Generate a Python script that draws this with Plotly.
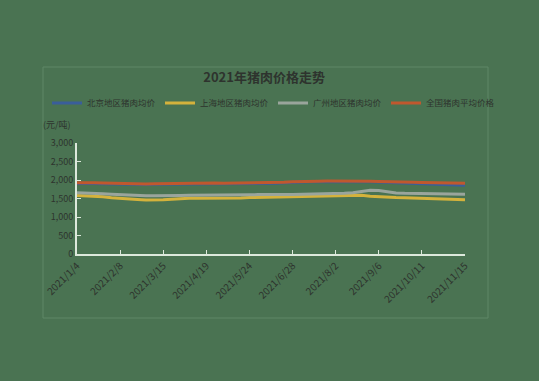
import plotly.graph_objects as go
import pandas as pd

# ---- data ----
dates = pd.date_range("2021-01-04", periods=46, freq="7D")
tick_idx = [0, 5, 10, 15, 20, 25, 30, 35, 40, 45]
tick_text = ["2021/1/4", "2021/2/8", "2021/3/15", "2021/4/19", "2021/5/24",
             "2021/6/28", "2021/8/2", "2021/9/6", "2021/10/11", "2021/11/15"]

series_names = ["北京地区猪肉均价", "上海地区猪肉均价", "广州地区猪肉均价", "全国猪肉平均价格"]

blue_vals = [1905, 1910, 1905, 1900, 1895, 1880, 1875, 1872, 1878, 1885,
             1890, 1888, 1885, 1892, 1895, 1900, 1902, 1898, 1900, 1905,
             1902, 1905, 1900, 1910, 1925, 1940, 1950, 1955, 1955, 1958,
             1960, 1962, 1958, 1955, 1950, 1940, 1925, 1915, 1905, 1895,
             1885, 1880, 1875, 1870, 1865, 1860]
yellow_vals = [1580, 1575, 1560, 1545, 1520, 1500, 1490, 1475, 1462, 1458,
               1465, 1480, 1500, 1505, 1510, 1508, 1505, 1500, 1505, 1515,
               1525, 1530, 1528, 1530, 1532, 1535, 1540, 1545, 1550, 1560,
               1570, 1580, 1590, 1585, 1560, 1545, 1535, 1525, 1520, 1510,
               1500, 1490, 1478, 1470, 1468, 1465]
grey_vals = [1655, 1650, 1640, 1628, 1615, 1600, 1590, 1582, 1575, 1572,
             1570, 1575, 1580, 1585, 1590, 1592, 1595, 1598, 1595, 1600,
             1602, 1605, 1600, 1605, 1608, 1610, 1612, 1615, 1618, 1622,
             1630, 1640, 1655, 1690, 1720, 1715, 1680, 1650, 1640, 1635,
             1630, 1628, 1625, 1622, 1620, 1618]
orange_vals = [1925, 1930, 1928, 1920, 1915, 1895, 1888, 1885, 1890, 1900,
               1905, 1902, 1900, 1908, 1910, 1915, 1918, 1912, 1915, 1920,
               1918, 1922, 1915, 1925, 1940, 1955, 1965, 1970, 1968, 1972,
               1975, 1978, 1972, 1970, 1968, 1960, 1950, 1945, 1940, 1938,
               1935, 1930, 1928, 1925, 1920, 1915]

y_ticks = [0, 500, 1000, 1500, 2000, 2500, 3000]
y_tick_text = ["0", "500", "1,000", "1,500", "2,000", "2,500", "3,000"]

title_text = "<b>2021年猪肉价格走势</b>"
unit_text = "(元/吨)"

colors = ["#3a5e9a", "#d4b23c", "#9aa59c", "#c0582e"]
BG = "#4a7352"
TXT = "#2e332e"
AX = "#dde9dc"
FONT = "Noto Sans CJK SC"

fig = go.Figure()
for name, vals, c in zip(series_names, [blue_vals, yellow_vals, grey_vals, orange_vals], colors):
    fig.add_trace(go.Scatter(x=dates, y=vals, mode="lines", name=name,
                             line=dict(color=c, width=3)))

fig.update_layout(
    width=539, height=381,
    paper_bgcolor=BG, plot_bgcolor=BG,
    margin=dict(l=77, r=74, t=143, b=127),
    font=dict(family=FONT, color=TXT, size=9),
    title=dict(text=title_text, x=0.49, xanchor="center", y=1 - 77 / 381, yanchor="middle",
               font=dict(size=13, color=TXT, family=FONT)),
    legend=dict(orientation="h", x=(47 - 77) / 388, xanchor="left",
                y=(254 - 103) / 111, yanchor="middle",
                font=dict(size=8.5, color=TXT), bgcolor="rgba(0,0,0,0)",
                itemwidth=30, entrywidth=68, entrywidthmode="pixels", tracegroupgap=0),
    showlegend=True,
)
fig.update_xaxes(
    range=[dates[0], dates[-1]],
    tickvals=[dates[i] for i in tick_idx], ticktext=tick_text,
    tickangle=-45, showgrid=False, zeroline=False,
    showline=True, linecolor=AX, linewidth=2,
    ticks="inside", ticklen=4, tickcolor=AX,
    tickfont=dict(size=10, color=TXT),
)
fig.update_yaxes(
    range=[0, 3000], tickvals=y_ticks, ticktext=y_tick_text,
    showgrid=False, zeroline=False,
    showline=True, linecolor=AX, linewidth=2,
    ticks="inside", ticklen=4, tickcolor=AX,
    tickfont=dict(size=9, color=TXT),
)
fig.add_annotation(text=unit_text, xref="paper", yref="paper",
                   x=-0.01, y=(254 - 124) / 111, xanchor="right", yanchor="middle",
                   showarrow=False, font=dict(size=9, color=TXT))
fig.add_shape(type="rect", xref="paper", yref="paper",
              x0=(43 - 77) / 388, x1=(488 - 77) / 388,
              y0=(254 - 318) / 111, y1=(254 - 67) / 111,
              line=dict(color="#5e8866", width=1), fillcolor="rgba(0,0,0,0)", layer="below")

fig.write_html("out.html", config={"displayModeBar": False},
               post_script="document.body.style.margin='0';")
